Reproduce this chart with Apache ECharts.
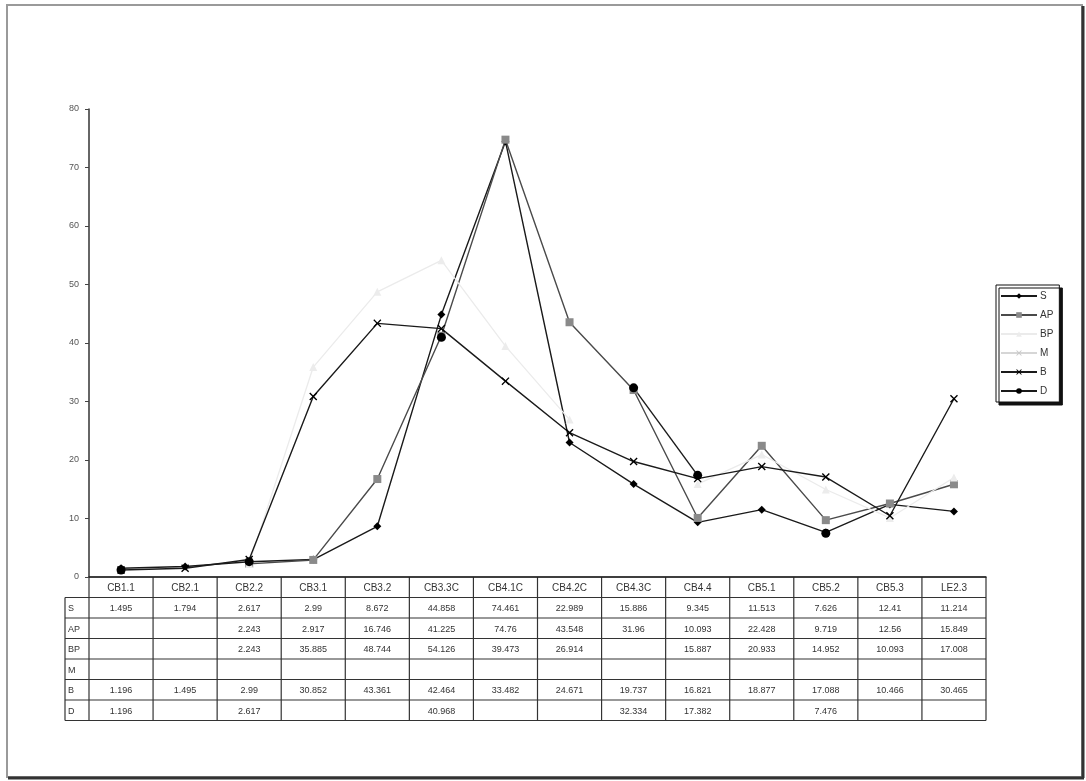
<!DOCTYPE html>
<html>
<head>
<meta charset="utf-8">
<script src="https://cdn.jsdelivr.net/npm/echarts@6/dist/echarts.min.js"></script>
<style>
html,body{margin:0;padding:0;background:#fff;}
#chart{width:1086px;height:781px;}
</style>
</head>
<body>
<div id="chart"></div>
<script>
// ---- data ----
var categories = ['CB1.1','CB2.1','CB2.2','CB3.1','CB3.2','CB3.3C','CB4.1C','CB4.2C','CB4.3C','CB4.4','CB5.1','CB5.2','CB5.3','LE2.3'];
var seriesNames = ['S','AP','BP','M','B','D'];
var S  = [1.495, 1.794, 2.617, 2.99, 8.672, 44.858, 74.461, 22.989, 15.886, 9.345, 11.513, 7.626, 12.41, 11.214];
var AP = [null, null, 2.243, 2.917, 16.746, 41.225, 74.76, 43.548, 31.96, 10.093, 22.428, 9.719, 12.56, 15.849];
var BP = [null, null, 2.243, 35.885, 48.744, 54.126, 39.473, 26.914, null, 15.887, 20.933, 14.952, 10.093, 17.008];
var M  = [null, null, null, null, null, null, null, null, null, null, null, null, null, null];
var B  = [1.196, 1.495, 2.99, 30.852, 43.361, 42.464, 33.482, 24.671, 19.737, 16.821, 18.877, 17.088, 10.466, 30.465];
var D  = [1.196, null, 2.617, null, null, 40.968, null, null, 32.334, 17.382, null, 7.476, null, null];
var yTicks = [0, 10, 20, 30, 40, 50, 60, 70, 80];

var seriesData = {S:S, AP:AP, BP:BP, M:M, B:B, D:D};

// ---- layout ----
var GL = 89, GR = 986, GT = 109, GB = 577;
var rowH = 20.5, labelLeft = 65;
var FONT = '"Liberation Sans", Arial, sans-serif';

var xPath = 'path://M0,1.2L1.2,0L5,3.8L8.8,0L10,1.2L6.2,5L10,8.8L8.8,10L5,6.2L1.2,10L0,8.8L3.8,5Z';
var styles = {
  S:  {line:'#1a1a1a', sym:'diamond', symColor:'#000', size:8, w:1.4},
  AP: {line:'#4a4a4a', sym:'rect', symColor:'#8a8a8a', size:8, w:1.4},
  BP: {line:'#ebebeb', sym:'triangle', symColor:'#ececec', size:8, w:1.3},
  M:  {line:'#d6d6d6', sym:xPath, symColor:'#c8c8c8', size:8, w:1.3},
  B:  {line:'#1a1a1a', sym:xPath, symColor:'#000', size:8, w:1.4},
  D:  {line:'#1a1a1a', sym:'circle', symColor:'#000', size:9, w:1.4}
};

var chart = echarts.init(document.getElementById('chart'), null, {renderer:'canvas'});

var series = seriesNames.map(function(n){
  var st = styles[n];
  return {
    name:n, type:'line', data:seriesData[n],
    symbol:st.sym, symbolSize:st.size, showSymbol:true, showAllSymbol:true,
    connectNulls:false, animation:false,
    lineStyle:{color:st.line, width:st.w},
    itemStyle:{color:st.symColor, borderWidth:0},
    emphasis:{disabled:true}
  };
});

chart.setOption({
  backgroundColor:'#fff',
  animation:false,
  grid:{left:GL, top:GT, width:GR-GL, height:GB-GT, containLabel:false},
  xAxis:{
    type:'category', data:categories, boundaryGap:true,
    axisLine:{show:true, lineStyle:{color:'#222', width:1.5}},
    axisTick:{show:false}, axisLabel:{show:false}, splitLine:{show:false}
  },
  yAxis:{
    type:'value', min:yTicks[0], max:yTicks[yTicks.length-1], interval:10,
    axisLine:{show:true, lineStyle:{color:'#333', width:1.5}},
    axisTick:{show:true, inside:false, length:4, lineStyle:{color:'#444'}},
    axisLabel:{fontSize:9, color:'#555', fontFamily:FONT, margin:10},
    splitLine:{show:false}
  },
  legend:{
    orient:'vertical', left:996, top:285,
    data:seriesNames,
    itemWidth:36, itemHeight:7, itemGap:9,
    textStyle:{fontSize:10, color:'#333', fontFamily:FONT, padding:[0,0,0,-2]},
    padding:[6,6,6,4],
    borderColor:'#111', borderWidth:1,
    backgroundColor:'#fff',
    shadowColor:'#111', shadowBlur:0, shadowOffsetX:3, shadowOffsetY:3,
    selectedMode:false
  },
  series:series
});

// ---- data table built from the arrays ----
var els = [];
var n = categories.length;
var cw = (GR - GL) / n;
var rows = seriesNames.length;
var tableBottom = GB + rowH * (rows + 1);
var lineStyle = {stroke:'#333', lineWidth:1.2};

function hline(x1, x2, y){ els.push({type:'line', shape:{x1:x1,y1:y,x2:x2,y2:y}, style:lineStyle, silent:true}); }
function vline(x, y1, y2){ els.push({type:'line', shape:{x1:x,y1:y1,x2:x,y2:y2}, style:lineStyle, silent:true}); }
function txt(x, y, s, align, size){
  els.push({type:'text', x:x, y:y, silent:true,
    style:{text:s, fill:'#333', font:(size||9)+'px '+FONT, textAlign:align||'center', textVerticalAlign:'middle'}});
}

hline(GL, GR, GB);
for (var r = 1; r <= rows + 1; r++) hline(labelLeft, GR, GB + r * rowH);
vline(labelLeft, GB + rowH, tableBottom);
for (var i = 0; i <= n; i++) {
  var cx = chart.convertToPixel({xAxisIndex:0}, Math.min(i, n-1));
  var bx = i < n ? cx - cw/2 : cx + cw/2;
  vline(bx, GB, tableBottom);
}
categories.forEach(function(c, i){
  var cx = chart.convertToPixel({xAxisIndex:0}, i);
  txt(cx, GB + rowH/2 + 1, c, 'center', 10);
});
seriesNames.forEach(function(name, r){
  var yc = GB + rowH * (r + 1) + rowH/2 + 1;
  txt(labelLeft + 3, yc, name, 'left', 9);
  seriesData[name].forEach(function(v, i){
    if (v === null) return;
    var cx = chart.convertToPixel({xAxisIndex:0}, i);
    txt(cx, yc, String(v), 'center', 9);
  });
});

// outer frame
els.push({type:'rect', shape:{x:7, y:5, width:1075, height:772}, style:{fill:'none', stroke:'#9a9a9a', lineWidth:2}, silent:true, z:-1});
els.push({type:'line', shape:{x1:1083, y1:6, x2:1083, y2:778}, style:{stroke:'#333', lineWidth:3}, silent:true});
els.push({type:'line', shape:{x1:8, y1:778, x2:1084, y2:778}, style:{stroke:'#333', lineWidth:3}, silent:true});

chart.setOption({graphic:{elements:els}});
</script>
</body>
</html>
